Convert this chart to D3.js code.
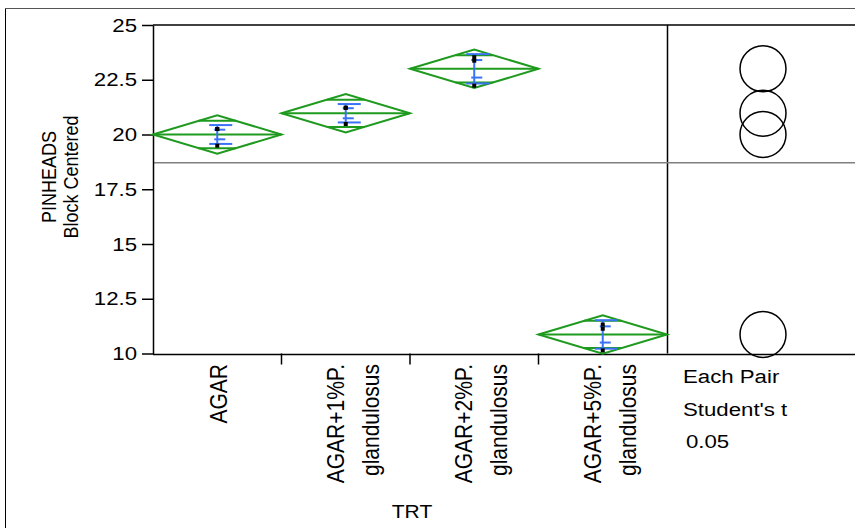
<!DOCTYPE html>
<html>
  <head>
    <title>PINHEADS by TRT</title>
    <meta charset="utf-8">
    <script src='https://d3js.org/d3.v7.min.js'></script>
    <style>
      body { margin: 0; background: #fff; }
      text { font-family: "Liberation Sans", Arial, sans-serif; fill: #000; }
    </style>
  </head>
  <body>
  <div id="svgcontainer"></div>
  <script>
    var width = 855,
        height = 528;

    // data
    var categories = ['AGAR', 'AGAR+1%P. glandulosus', 'AGAR+2%P. glandulosus', 'AGAR+5%P. glandulosus'];
    var labelLines = [['AGAR'], ['AGAR+1%P.', 'glandulosus'], ['AGAR+2%P.', 'glandulosus'], ['AGAR+5%P.', 'glandulosus']];
    var means = [20.0, 20.97, 23.0, 10.87];
    var sdValues = [0.43, 0.42, 0.67, 0.65];
    var seValues = [0.22, 0.23, 0.40, 0.37];
    var ciHalf = [0.88, 0.88, 0.88, 0.88];
    var circleRadius = [1.05, 1.05, 1.05, 1.05];
    var points = [[20.25, 20.25, 19.49], [21.22, 21.22, 20.48], [23.53, 23.37, 22.23], [11.32, 11.13, 10.14]];
    var yTicks = [10, 12.5, 15, 17.5, 20, 22.5, 25];
    var yTitle = ['PINHEADS', 'Block Centered'];
    var legendLines = ['Each Pair', "Student's t", '0.05'];

    var green = '#1e9a1e', blue = '#3a72f5';
    var sx = 1.17; // the picture's text is a bit wider than tall

    var svg = d3.select('#svgcontainer')
      .append('svg')
      .attr('width', width)
      .attr('height', height);

    var x = d3.scaleBand().domain(categories).range([153, 667]).padding(0);
    var y = d3.scaleLinear().domain([10, 25]).range([353.5, 25]);
    var cx = function(d) { return x(d) + x.bandwidth() / 2; };
    var circX = 763;

    // outer frame
    svg.append('line').attr('x1', 5.5).attr('x2', 5.5).attr('y1', 8).attr('y2', height).attr('stroke', '#000');
    svg.append('line').attr('x1', 5).attr('x2', width).attr('y1', 8.5).attr('y2', 8.5).attr('stroke', '#555');

    // frame lines of plot and circle panel
    svg.append('line').attr('x1', 153).attr('x2', width).attr('y1', y(25)).attr('y2', y(25)).attr('stroke', '#000').attr('stroke-width', 1.5);
    svg.append('line').attr('x1', 153).attr('x2', width).attr('y1', y(10) + 1).attr('y2', y(10) + 1).attr('stroke', '#000').attr('stroke-width', 1.5);
    svg.append('line').attr('x1', 667.5).attr('x2', 667.5).attr('y1', y(25)).attr('y2', y(10)).attr('stroke', '#000').attr('stroke-width', 1.5);

    // grand mean
    var grand = d3.mean(means);
    svg.append('line').attr('x1', 153).attr('x2', width).attr('y1', y(grand)).attr('y2', y(grand)).attr('stroke', '#808080').attr('stroke-width', 1.5);

    // y axis
    var yAxis = svg.append('g')
      .attr('transform', 'translate(153,0)')
      .call(d3.axisLeft(y).tickValues(yTicks).tickSize(11).tickSizeOuter(0).tickPadding(4).tickFormat(function(d) { return d; }));
    yAxis.select('.domain').attr('stroke-width', 1.5);
    yAxis.selectAll('.tick line').attr('stroke-width', 1.5);
    yAxis.selectAll('.tick text')
      .style('font-size', '19px')
      .attr('font-family', null)
      .attr('transform', 'scale(' + sx + ',1)')
      .attr('x', -16 / sx);

    // x ticks at category boundaries
    svg.selectAll('.xtick')
      .data(categories.slice(1))
      .enter()
      .append('line')
      .attr('x1', function(d) { return x(d); })
      .attr('x2', function(d) { return x(d); })
      .attr('y1', y(10))
      .attr('y2', y(10) + 11)
      .attr('stroke', '#000')
      .attr('stroke-width', 1.5);

    // diamonds
    var groups = svg.selectAll('.grp')
      .data(categories)
      .enter()
      .append('g');

    groups.append('polygon')
      .attr('fill', 'none')
      .attr('stroke', green)
      .attr('stroke-width', 2)
      .attr('points', function(d, i) {
        var m = means[i], c = ciHalf[i];
        return [[x(d), y(m)], [cx(d), y(m + c)], [x(d) + x.bandwidth(), y(m)], [cx(d), y(m - c)]].join(' ');
      });
    groups.append('line')
      .attr('x1', function(d) { return x(d); })
      .attr('x2', function(d) { return x(d) + x.bandwidth(); })
      .attr('y1', function(d, i) { return y(means[i]); })
      .attr('y2', function(d, i) { return y(means[i]); })
      .attr('stroke', green).attr('stroke-width', 2);
    [1, -1].forEach(function(s) {
      groups.append('line')
        .attr('x1', function(d) { return cx(d) - x.bandwidth() / 2 * (1 - Math.SQRT1_2); })
        .attr('x2', function(d) { return cx(d) + x.bandwidth() / 2 * (1 - Math.SQRT1_2); })
        .attr('y1', function(d, i) { return y(means[i] + s * ciHalf[i] * Math.SQRT1_2); })
        .attr('y2', function(d, i) { return y(means[i] + s * ciHalf[i] * Math.SQRT1_2); })
        .attr('stroke', green).attr('stroke-width', 2);
    });

    // std dev lines and error bars
    groups.append('line')
      .attr('x1', function(d) { return cx(d); })
      .attr('x2', function(d) { return cx(d); })
      .attr('y1', function(d, i) { return y(means[i] + sdValues[i]); })
      .attr('y2', function(d, i) { return y(means[i] - sdValues[i]); })
      .attr('stroke', blue).attr('stroke-width', 2);
    [1, -1].forEach(function(s) {
      groups.append('line')
        .attr('x1', function(d) { return cx(d) - 8; })
        .attr('x2', function(d) { return cx(d) + 15; })
        .attr('y1', function(d, i) { return y(means[i] + s * sdValues[i]); })
        .attr('y2', function(d, i) { return y(means[i] + s * sdValues[i]); })
        .attr('stroke', blue).attr('stroke-width', 2);
      groups.append('line')
        .attr('x1', function(d) { return cx(d) - 3; })
        .attr('x2', function(d) { return cx(d) + 8; })
        .attr('y1', function(d, i) { return y(means[i] + s * seValues[i]); })
        .attr('y2', function(d, i) { return y(means[i] + s * seValues[i]); })
        .attr('stroke', blue).attr('stroke-width', 2);
    });

    // data points
    groups.each(function(d, i) {
      d3.select(this).selectAll('rect')
        .data(points[i])
        .enter()
        .append('rect')
        .attr('x', cx(d) - 2)
        .attr('y', function(v) { return y(v) - 2; })
        .attr('width', 4)
        .attr('height', 4)
        .attr('fill', '#000');
    });

    // comparison circles
    svg.selectAll('.circ')
      .data(categories)
      .enter()
      .append('circle')
      .attr('cx', circX)
      .attr('cy', function(d, i) { return y(means[i]); })
      .attr('r', function(d, i) { return y(0) - y(circleRadius[i]); })
      .attr('fill', 'none')
      .attr('stroke', '#000')
      .attr('stroke-width', 1.5);

    // x labels
    groups.each(function(d, i) {
      var lines = labelLines[i];
      var c = cx(d);
      var offs = lines.length === 1 ? [10] : [-2, 33];
      d3.select(this).selectAll('.xl')
        .data(lines)
        .enter()
        .append('text')
        .attr('transform', function(t, j) { return 'translate(' + (c + offs[j]) + ',364) scale(' + sx + ',1) rotate(-90)'; })
        .attr('text-anchor', 'end')
        .style('font-size', '21px')
        .text(function(t) { return t; });
    });

    // axis titles
    svg.selectAll('.ytitle')
      .data(yTitle)
      .enter()
      .append('text')
      .attr('transform', function(d, i) { return 'translate(' + (56 + i * 22) + ',177) scale(' + sx + ',1) rotate(-90)'; })
      .attr('text-anchor', 'middle')
      .style('font-size', '18px')
      .text(function(d) { return d; });
    svg.append('text')
      .attr('transform', 'translate(412,518) scale(' + sx + ',1)')
      .attr('text-anchor', 'middle')
      .style('font-size', '18px')
      .text('TRT');

    // circle panel legend
    svg.selectAll('.leg')
      .data(legendLines)
      .enter()
      .append('text')
      .attr('transform', function(d, i) { return 'translate(' + (i === 2 ? 686 : 683) + ',' + (383 + i * 32.5) + ') scale(' + sx + ',1)'; })
      .style('font-size', '19px')
      .text(function(d) { return d; });
  </script>
  </body>
</html>
